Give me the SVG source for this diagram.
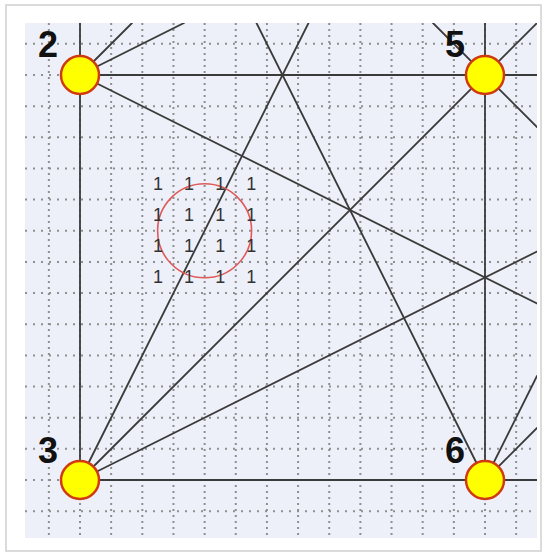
<svg xmlns="http://www.w3.org/2000/svg" width="546" height="554" viewBox="0 0 546 554">
  <defs>
    <style>
      .frame { fill: #ffffff; stroke: #d0d0d0; stroke-width: 1.5; }
      .area { fill: #eef0f9; }
      .gv { stroke: #8f8f8f; stroke-width: 2; stroke-dasharray: 2 4; fill: none; }
      .gh { stroke: #8f8f8f; stroke-width: 2; stroke-dasharray: 2 6; fill: none; }
      .edge { stroke: #3a3a3a; stroke-width: 1.8; fill: none; stroke-linecap: round; }
      .node { fill: #ffff00; stroke: #d03a10; stroke-width: 2.5; }
      .lbl { font-family: "Liberation Sans", Arial, sans-serif; font-weight: bold; font-size: 36px; fill: #111111; }
      .one { font-family: "Liberation Sans", Arial, sans-serif; font-size: 18px; fill: #333333; text-anchor: middle; }
      .ring { fill: none; stroke: #e05a5a; stroke-width: 1.6; }
    </style>
    <clipPath id="clipArea">
      <rect x="25" y="23" width="512" height="515"/>
    </clipPath>
  </defs>

  <rect class="frame" x="6" y="5" width="535" height="546"/>
  <rect class="area" x="25" y="23" width="512" height="515"/>

  <g id="grid" clip-path="url(#clipArea)">
    <path class="gv" d="M48.85 23V538 M111.15 23V538 M142.31 23V538 M173.46 23V538 M204.62 23V538 M235.77 23V538 M266.92 23V538 M298.08 23V538 M329.23 23V538 M360.38 23V538 M391.54 23V538 M422.69 23V538 M453.85 23V538 M516.15 23V538 M80 23V538 M485 23V538"/>
    <path class="gh" d="M25 43.85H537 M25 106.15H537 M25 137.31H537 M25 168.46H537 M25 199.62H537 M25 230.77H537 M25 261.92H537 M25 293.08H537 M25 324.23H537 M25 355.38H537 M25 386.54H537 M25 417.69H537 M25 448.85H537 M25 511.15H537 M25 75H537 M25 480H537"/>
  </g>

  <g id="connectors" clip-path="url(#clipArea)">
    <line class="edge" x1="80" y1="23" x2="80" y2="480"/>
    <line class="edge" x1="485" y1="23" x2="485" y2="480"/>
    <line class="edge" x1="80" y1="75" x2="537" y2="75"/>
    <line class="edge" x1="80" y1="480" x2="537" y2="480"/>
    <line class="edge" x1="80" y1="75" x2="132" y2="23"/>
    <line class="edge" x1="80" y1="75" x2="184" y2="23"/>
    <line class="edge" x1="80" y1="75" x2="537" y2="303.5"/>
    <line class="edge" x1="80" y1="480" x2="537" y2="251.5"/>
    <line class="edge" x1="80" y1="480" x2="537" y2="23"/>
    <line class="edge" x1="80" y1="480" x2="308.5" y2="23"/>
    <line class="edge" x1="485" y1="480" x2="256.5" y2="23"/>
    <line class="edge" x1="433" y1="23" x2="537" y2="127"/>
    <line class="edge" x1="485" y1="480" x2="537" y2="376"/>
    <line class="edge" x1="485" y1="480" x2="537" y2="428"/>
  </g>

  <g id="marks">
    <circle class="ring" cx="204.6" cy="230.8" r="47"/>
    <text class="one" x="157.9" y="190">1</text>
    <text class="one" x="189" y="190">1</text>
    <text class="one" x="220.2" y="190">1</text>
    <text class="one" x="251.3" y="190">1</text>
    <text class="one" x="157.9" y="221">1</text>
    <text class="one" x="189" y="221">1</text>
    <text class="one" x="220.2" y="221">1</text>
    <text class="one" x="251.3" y="221">1</text>
    <text class="one" x="157.9" y="252">1</text>
    <text class="one" x="189" y="252">1</text>
    <text class="one" x="220.2" y="252">1</text>
    <text class="one" x="251.3" y="252">1</text>
    <text class="one" x="157.9" y="283">1</text>
    <text class="one" x="189" y="283">1</text>
    <text class="one" x="220.2" y="283">1</text>
    <text class="one" x="251.3" y="283">1</text>
  </g>

  <g id="node2">
    <circle class="node" cx="80" cy="75" r="19"/>
    <text class="lbl" x="38" y="57">2</text>
  </g>
  <g id="node5">
    <circle class="node" cx="485" cy="75" r="19"/>
    <text class="lbl" x="445" y="57">5</text>
  </g>
  <g id="node3">
    <circle class="node" cx="80" cy="480" r="19"/>
    <text class="lbl" x="38" y="463">3</text>
  </g>
  <g id="node6">
    <circle class="node" cx="485" cy="480" r="19"/>
    <text class="lbl" x="445" y="463">6</text>
  </g>
</svg>
